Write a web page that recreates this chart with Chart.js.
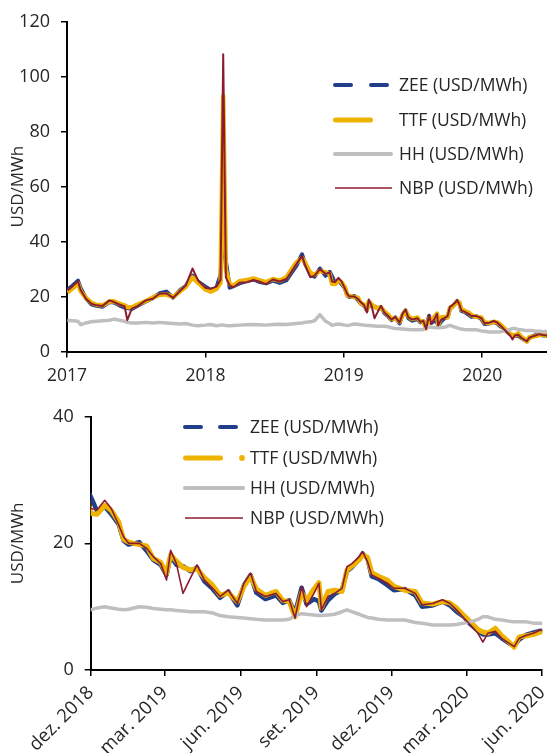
<!DOCTYPE html>
<html lang="pt">
<head>
    <meta charset="UTF-8">
    <title>ZEE, TTF, HH e NBP (USD/MWh)</title>
    <script src="https://cdn.jsdelivr.net/npm/chart.js"></script>
    <style>
        body {
            margin: 0;
            background: #fff;
            font-family: 'Open Sans', sans-serif;
        }
        .panel {
            position: absolute;
            left: 0;
        }
        #topPanel { top: 0; }
        #bottomPanel { top: 392px; }
    </style>
</head>
<body>

<div class="panel" id="topPanel"><canvas id="topChart" width="547" height="392"></canvas></div>
<div class="panel" id="bottomPanel"><canvas id="bottomChart" width="547" height="361"></canvas></div>

<script>
    const dates = [
        '2017-01-02', '2017-01-16', '2017-01-30', '2017-02-06', '2017-02-20', '2017-03-06', '2017-03-20',
        '2017-04-05', '2017-04-23', '2017-05-05', '2017-05-19', '2017-06-02', '2017-06-09', '2017-06-21',
        '2017-07-05', '2017-07-28', '2017-08-15', '2017-09-02', '2017-09-20', '2017-10-08', '2017-10-27',
        '2017-11-10', '2017-11-28', '2017-12-13', '2018-01-01', '2018-01-15', '2018-01-30', '2018-02-10',
        '2018-02-17', '2018-02-24', '2018-03-06', '2018-03-16', '2018-04-01', '2018-04-20', '2018-05-08',
        '2018-05-22', '2018-06-10', '2018-06-28', '2018-07-16', '2018-08-03', '2018-08-15', '2018-08-29',
        '2018-09-13', '2018-09-20', '2018-10-05', '2018-10-16', '2018-10-30', '2018-11-14', '2018-11-25',
        '2018-12-01', '2018-12-09', '2018-12-18', '2018-12-26', '2019-01-04', '2019-01-10', '2019-01-16',
        '2019-01-29', '2019-02-07', '2019-02-15', '2019-02-24', '2019-03-03', '2019-03-08', '2019-03-15',
        '2019-03-23', '2019-04-01', '2019-04-09', '2019-04-18', '2019-04-28', '2019-05-07', '2019-05-17',
        '2019-05-28', '2019-06-05', '2019-06-13', '2019-06-20', '2019-07-01', '2019-07-14', '2019-07-22',
        '2019-07-30', '2019-08-06', '2019-08-14', '2019-08-20', '2019-08-29', '2019-09-04', '2019-09-07',
        '2019-09-15', '2019-09-23', '2019-10-02', '2019-10-08', '2019-10-14', '2019-10-23', '2019-10-27',
        '2019-11-02', '2019-11-07', '2019-11-15', '2019-11-26', '2019-12-04', '2019-12-17', '2019-12-30',
        '2020-01-07', '2020-01-20', '2020-02-01', '2020-02-10', '2020-02-18', '2020-02-27', '2020-03-06',
        '2020-03-15', '2020-03-21', '2020-03-27', '2020-04-05', '2020-04-13', '2020-04-22', '2020-04-28',
        '2020-05-04', '2020-05-13', '2020-05-21', '2020-05-30', '2020-06-10', '2020-06-20'
    ];

    const zee = [
        22.5, 24.0, 25.8, 23.0, 19.4, 17.2, 16.6, 16.3, 18.0, 17.8, 16.8, 16.0, 15.8, 15.5,
        16.6, 18.2, 19.4, 21.2, 21.8, 19.6, 22.4, 23.8, 27.6, 25.4, 23.6, 22.4, 23.2, 28.0,
        45.0, 33.0, 23.2, 23.8, 24.8, 25.6, 26.2, 25.4, 24.8, 25.8, 25.0, 26.0, 28.4, 31.2,
        35.4, 32.2, 28.0, 27.2, 30.2, 27.6, 29.0,
        27.4, 25.0, 25.8, 24.6, 23.0, 20.4, 19.8, 20.2, 18.8, 17.4, 16.6, 15.0, 18.0, 16.6,
        16.4, 15.6, 16.2, 14.0, 12.8, 11.4, 12.4, 10.2, 13.4, 15.0, 12.2, 11.2, 11.8, 10.6,
        11.0, 9.0, 13.0, 10.4, 11.2, 10.8, 9.4, 11.0, 12.0, 12.6, 15.6, 16.2, 17.6, 18.4,
        17.6, 14.8, 14.4, 13.4, 12.6, 12.8, 11.8, 10.0, 10.2, 10.8, 10.2, 9.2, 8.4, 7.2,
        6.2, 5.6, 5.6, 5.8, 5.0, 4.2, 3.8, 4.8, 5.6, 5.9, 6.2, 5.8, 5.8
    ];

    const ttf = [
        21.5, 23.0, 24.8, 22.0, 19.5, 17.8, 17.0, 16.8, 18.2, 18.3, 17.4, 16.8, 16.2, 16.0,
        17.0, 18.4, 19.6, 20.6, 20.8, 19.8, 22.0, 23.5, 27.0, 25.0, 22.6, 21.8, 22.8, 25.0,
        93.0, 30.0, 24.5, 24.0, 25.6, 26.0, 26.6, 26.0, 25.2, 26.4, 25.8, 27.0, 29.6, 32.4,
        34.0, 32.6, 28.6, 28.0, 29.4, 28.8, 28.2,
        24.7, 24.6, 26.0, 25.2, 23.4, 20.6, 20.2, 19.8, 19.6, 17.6, 17.0, 15.2, 18.2, 17.2,
        16.2, 15.8, 16.0, 14.6, 13.4, 11.8, 12.2, 10.8, 13.2, 14.8, 12.8, 11.8, 12.4, 11.0,
        10.8, 8.4, 12.2, 11.0, 12.8, 13.8, 9.8, 12.4, 12.6, 12.4, 15.8, 16.4, 17.4, 18.2,
        17.8, 15.4, 14.8, 14.2, 13.2, 12.6, 12.4, 10.6, 10.4, 10.8, 10.6, 9.8, 8.6, 7.6,
        6.4, 6.0, 5.8, 6.6, 5.4, 4.4, 3.6, 5.2, 5.4, 5.6, 6.0, 6.2, 5.6
    ];

    const hh = [
        11.4, 11.2, 11.0, 9.8, 10.4, 10.8, 11.0, 11.2, 11.4, 11.8, 11.4, 11.0, 10.6, 10.4,
        10.4, 10.6, 10.4, 10.6, 10.4, 10.2, 10.0, 10.2, 9.6, 9.4, 9.6, 9.8, 9.4, 9.6,
        9.6, 9.5, 9.4, 9.5, 9.6, 9.7, 9.8, 9.7, 9.6, 9.8, 9.9, 9.8, 10.0, 10.2,
        10.4, 10.6, 10.8, 11.2, 13.4, 11.0, 10.2,
        9.5, 9.8, 10.0, 9.8, 9.6, 9.5, 9.6, 10.0, 9.9, 9.7, 9.6, 9.5, 9.5, 9.4,
        9.3, 9.2, 9.2, 9.2, 9.0, 8.6, 8.4, 8.3, 8.2, 8.1, 8.0, 7.9, 7.9, 7.9,
        8.0, 8.6, 8.9, 8.8, 8.7, 8.6, 8.6, 8.7, 8.8, 9.2, 9.5, 9.2, 8.8, 8.6,
        8.3, 8.2, 8.0, 7.9, 7.9, 7.9, 7.5, 7.4, 7.1, 7.1, 7.1, 7.2, 7.4, 7.6,
        8.0, 8.4, 8.4, 8.0, 7.9, 7.7, 7.6, 7.6, 7.6, 7.4, 7.4, 7.2, 7.4
    ];

    const nbp = [
        22.2, 23.8, 25.6, 22.4, 19.2, 17.4, 16.8, 16.6, 18.6, 18.0, 17.1, 16.4, 11.4, 15.6,
        16.4, 18.6, 19.2, 21.0, 21.2, 19.5, 22.2, 24.0, 30.2, 25.8, 23.2, 22.8, 23.6, 26.0,
        108.2, 27.0, 24.0, 23.4, 25.0, 25.2, 26.0, 25.5, 24.5, 26.2, 25.5, 26.4, 28.8, 31.8,
        34.8, 31.8, 27.0, 27.6, 30.0, 28.2, 28.8,
        25.5, 25.3, 26.8, 25.5, 22.9, 21.0, 20.0, 20.0, 19.2, 17.9, 16.8, 14.2, 18.9, 16.8,
        12.1, 14.5, 16.6, 14.2, 12.9, 11.6, 12.6, 10.5, 13.7, 15.3, 12.4, 11.6, 12.1, 10.8,
        11.1, 8.2, 13.2, 10.0, 12.1, 13.7, 9.5, 11.6, 12.1, 12.9, 16.3, 16.8, 17.9, 18.7,
        17.1, 15.0, 14.5, 13.7, 12.9, 12.9, 12.1, 10.3, 10.5, 11.1, 10.5, 9.5, 8.2, 7.1,
        5.8, 4.4, 5.8, 6.1, 5.0, 4.2, 3.7, 5.0, 5.5, 5.8, 6.3, 6.0, 5.8
    ];

    const seriesLabels = ['ZEE (USD/MWh)', 'TTF (USD/MWh)', 'HH (USD/MWh)', 'NBP (USD/MWh)'];

    // tick positions and labels
    const yearTicks = ['2017-01-01', '2018-01-01', '2019-01-01', '2020-01-01'];
    const yearLabels = ['2017', '2018', '2019', '2020'];
    const quarterTicks = ['2018-12-01', '2019-03-01', '2019-06-01', '2019-09-01', '2019-12-01', '2020-03-01', '2020-06-01'];
    const quarterLabels = ['dez. 2018', 'mar. 2019', 'jun. 2019', 'set. 2019', 'dez. 2019', 'mar. 2020', 'jun. 2020'];
    const topYTicks = [0, 20, 40, 60, 80, 100, 120];
    const bottomYTicks = [0, 20, 40];

    const colors = ['#213F88', '#EEB300', '#BFBFBF', '#8B1C30'];
    const textColor = '#262626';
    const fontFamily = "'Open Sans', sans-serif";

    // days since 1 Jan 2017
    function dayNum(s) {
        const p = s.split('-').map(Number);
        return (Date.UTC(p[0], p[1] - 1, p[2]) - Date.UTC(2017, 0, 1)) / 86400000;
    }

    function points(values) {
        return dates.map((d, i) => ({ x: dayNum(d), y: values[i] }));
    }

    function makeDatasets(widths) {
        const all = [zee, ttf, hh, nbp];
        const order = [3, 2, 1, 0];
        return all.map((vals, i) => ({
            label: seriesLabels[i],
            data: points(vals),
            borderColor: colors[i],
            borderWidth: widths[i],
            pointRadius: 0,
            tension: 0,
            order: order[i],
            borderJoinStyle: 'round'
        }));
    }

    // legend drawn by hand so the line styles match
    const lineLegend = {
        id: 'lineLegend',
        afterDraw(chart, args, opts) {
            const ctx = chart.ctx;
            ctx.save();
            opts.items.forEach((it, i) => {
                const ds = chart.data.datasets[i];
                ctx.strokeStyle = ds.borderColor;
                ctx.lineWidth = it.width;
                ctx.lineCap = it.cap;
                ctx.setLineDash(it.dash || []);
                ctx.beginPath();
                ctx.moveTo(it.x0, it.y);
                ctx.lineTo(it.x1, it.y);
                ctx.stroke();
                if (it.dot) {
                    ctx.setLineDash([]);
                    ctx.fillStyle = ds.borderColor;
                    ctx.beginPath();
                    ctx.arc(it.dot, it.y, it.width / 2 + 0.4, 0, Math.PI * 2);
                    ctx.fill();
                }
                ctx.fillStyle = textColor;
                ctx.font = opts.fontSize + 'px ' + fontFamily;
                ctx.textBaseline = 'middle';
                ctx.fillText(ds.label, opts.textX, it.y + 1);
            });
            ctx.restore();
        }
    };

    function axisX(min, max, tickDates, tickLabels, rotation, height, labelPad, fontSize) {
        return {
            type: 'linear',
            min: dayNum(min),
            max: dayNum(max),
            afterBuildTicks: (scale) => {
                scale.ticks = tickDates.map(d => ({ value: dayNum(d) }));
            },
            afterFit: (scale) => {
                scale.height = height;
                scale.paddingLeft = 0;
                scale.paddingRight = 0;
            },
            grid: { drawOnChartArea: false, drawTicks: true, tickLength: 6, color: '#000', lineWidth: 1.5 },
            border: { color: '#000', width: 2 },
            ticks: {
                autoSkip: false,
                maxRotation: rotation,
                minRotation: rotation,
                padding: labelPad,
                color: textColor,
                font: { family: fontFamily, size: fontSize },
                callback: (v, i) => tickLabels[i]
            }
        };
    }

    function axisY(max, tickValues, width) {
        return {
            min: 0,
            max: max,
            afterBuildTicks: (scale) => {
                scale.ticks = tickValues.map(v => ({ value: v }));
            },
            afterFit: (scale) => { scale.width = width; },
            grid: { drawOnChartArea: false, drawTicks: true, tickLength: 6, color: '#000', lineWidth: 1.5 },
            border: { color: '#000', width: 2 },
            ticks: {
                padding: 11,
                color: textColor,
                font: { family: fontFamily, size: 18 }
            },
            title: {
                display: true,
                text: 'USD/MWh',
                color: textColor,
                font: { family: fontFamily, size: 17 },
                padding: { top: 8, bottom: 0 }
            }
        };
    }

    function createTopChart() {
        const ctx = document.getElementById('topChart').getContext('2d');
        new Chart(ctx, {
            type: 'line',
            data: { datasets: makeDatasets([4, 4.5, 3.5, 2]) },
            options: {
                responsive: false,
                animation: false,
                layout: { padding: { top: 19, right: 0, left: 0, bottom: 0 } },
                scales: {
                    x: axisX('2017-01-01', '2020-06-20', yearTicks, yearLabels, 0, 40.5, 8, 17.5),
                    y: axisY(120, topYTicks, 67)
                },
                plugins: {
                    legend: { display: false },
                    tooltip: { enabled: false },
                    lineLegend: {
                        textX: 399,
                        fontSize: 17.5,
                        items: [
                            { y: 85, x0: 335, x1: 387, width: 4, cap: 'round', dash: [16, 20] },
                            { y: 120, x0: 335.5, x1: 370.5, width: 5, cap: 'round' },
                            { y: 154, x0: 335, x1: 391, width: 4, cap: 'round' },
                            { y: 188, x0: 335, x1: 392, width: 1.5, cap: 'butt' }
                        ]
                    }
                }
            },
            plugins: [lineLegend]
        });
    }

    function createBottomChart() {
        const ctx = document.getElementById('bottomChart').getContext('2d');
        new Chart(ctx, {
            type: 'line',
            data: { datasets: makeDatasets([4.5, 5, 3.5, 1.6]) },
            options: {
                responsive: false,
                animation: false,
                layout: { padding: { top: 24.7, right: 4.8, left: 0, bottom: 0 } },
                scales: {
                    x: axisX('2018-12-01', '2020-06-01', quarterTicks, quarterLabels, 45, 83, 6, 18.5),
                    y: axisY(40, bottomYTicks, 90.7)
                },
                plugins: {
                    legend: { display: false },
                    tooltip: { enabled: false },
                    lineLegend: {
                        textX: 250,
                        fontSize: 17.5,
                        items: [
                            { y: 35, x0: 185, x1: 236, width: 4, cap: 'round', dash: [16, 19] },
                            { y: 66, x0: 185.5, x1: 220.5, width: 5, cap: 'round', dot: 242 },
                            { y: 96, x0: 185, x1: 243, width: 4, cap: 'round' },
                            { y: 126, x0: 185, x1: 243, width: 1.5, cap: 'butt' }
                        ]
                    }
                }
            },
            plugins: [lineLegend]
        });
    }

    window.onload = function() {
        createTopChart();
        createBottomChart();
    };
</script>

</body>
</html>
